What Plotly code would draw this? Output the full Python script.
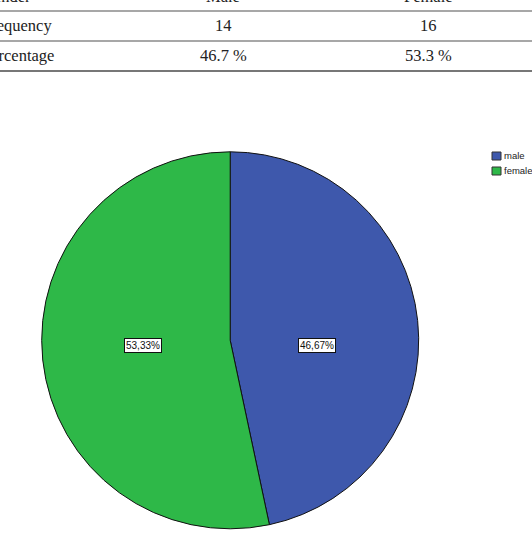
import math
import plotly.graph_objects as go

# ---- data ----
table_header = ["Gender", "Male", "Female"]
row_labels = ["Frequency", "Percentage"]
frequencies = [14, 16]
percent_text = ["46.7 %", "53.3 %"]

labels = ["male", "female"]
values = [14, 16]
slice_colors = ["#3E58AC", "#2EB848"]

W, H = 532, 543

def px(x):
    return x / W

def py(y):
    return 1 - y / H

# pie geometry (pixels)
cx, cy, R = 230.2, 340.3, 188.5

fig = go.Figure()
fig.add_trace(go.Pie(
    labels=labels, values=values, sort=False, direction="clockwise", rotation=0,
    marker=dict(colors=slice_colors, line=dict(color="#111111", width=1)),
    textinfo="none", hoverinfo="label+percent", showlegend=False,
    domain=dict(x=[px(cx - R), px(cx + R)], y=[py(cy + R), py(cy - R)]),
))

annotations = []
shapes = []

# slice labels computed from values (placed on the horizontal through the centre)
total = sum(values)
start = 0.0
for v in values:
    frac = v / total
    mid = (start + frac / 2) * 2 * math.pi
    start += frac
    lx = cx + 0.465 * R * math.sin(mid)
    annotations.append(dict(
        x=px(lx), y=py(cy), xref="paper", yref="paper", yshift=-5,
        xanchor="center", yanchor="middle",
        text=f"{100 * v / total:.2f}%".replace(".", ","), showarrow=False,
        font=dict(family="Liberation Sans, Arial", size=10, color="#111111"),
        bgcolor="white", bordercolor="#111111", borderwidth=1, borderpad=1,
    ))

# manual legend
for i, (lab, col) in enumerate(zip(labels, slice_colors)):
    y0 = 152 + i * 15
    shapes.append(dict(type="rect", xref="paper", yref="paper",
                       x0=px(492), x1=px(501), y0=py(y0 + 8), y1=py(y0),
                       fillcolor=col, line=dict(color="#333333", width=1)))
    annotations.append(dict(x=px(502), y=py(y0 + 4), xref="paper", yref="paper",
                            xanchor="left", yanchor="middle", text=lab, showarrow=False,
                            font=dict(family="Liberation Sans, Arial", size=9.5, color="#222222")))

# table
serif = dict(family="Liberation Serif, Times New Roman", size=16.5, color="#222222")
col_x = [-20, 223, 428]
row_y = [-4, 25.5, 55.5]
rows = [table_header,
        [row_labels[0]] + [str(f) for f in frequencies],
        [row_labels[1]] + percent_text]
for r, row in enumerate(rows):
    for c, txt in enumerate(row):
        annotations.append(dict(
            x=px(col_x[c]), y=py(row_y[r]), xref="paper", yref="paper",
            xanchor="left" if c == 0 else "center", yanchor="middle",
            text=txt, showarrow=False, font=serif))

for yl, colr in [(11, "#8a8a8a"), (41, "#8a8a8a"), (71, "#4a4a4a")]:
    shapes.append(dict(type="line", xref="paper", yref="paper", x0=0, x1=1,
                       y0=py(yl), y1=py(yl), line=dict(color=colr, width=1.6)))

fig.update_layout(
    width=W, height=H, margin=dict(l=0, r=0, t=0, b=0),
    paper_bgcolor="white", plot_bgcolor="white",
    annotations=annotations, shapes=shapes, showlegend=False,
)

fig.write_html("out.html")
